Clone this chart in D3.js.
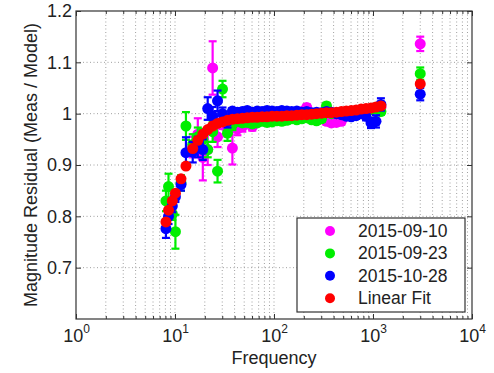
<!DOCTYPE html>
<html>
<head>
<meta charset="utf-8">
<script src="https://cdn.jsdelivr.net/npm/d3@7"></script>
<style>
  body { margin: 0; background: #fff; }
  svg text { font-family: "Liberation Sans", Arial, sans-serif; fill: #222; }
</style>
</head>
<body>
<svg id="chart" width="494" height="373"></svg>
<script>
// frequencies (Hz) shared by every series
const freqs = [8.1, 8.6, 9.4, 10.1, 11.5, 12.9,
  15.1, 17.0, 19.1, 21.4, 24.0, 26.9, 30.2, 33.9, 38.0, 42.7,
  47.9, 53.7, 60.3, 67.6, 75.9, 85.1, 95.5, 107, 120, 135,
  151, 170, 191, 214, 240, 269, 302, 339, 380, 427,
  479, 537, 603, 676, 759, 851, 955, 1072, 1202,
  3000];

const seriesNames = ["2015-09-10", "2015-09-23", "2015-10-28", "Linear Fit"];
const seriesColors = ["#ff00ff", "#00ee00", "#0000ff", "#ff0000"];

const mag0910 = [null, null, null, null, null, null,
  0.935, 0.96, 0.915, 0.93, 1.089, 0.955, 0.985, 0.97, 0.933, 0.97,
  0.975, 0.985, 0.975, 0.99, 0.988, 0.992, 0.99, 0.993, 0.99, 0.994,
  0.992, 0.995, 1.004, 1.012, 0.998, 0.996, 0.99, 0.985, 0.982, 0.983,
  0.985, 0.995, 1.0, 1.003, 1.005, 1.006, 1.008, 1.01, 1.012,
  1.136];
const err0910 = [0, 0, 0, 0, 0, 0,
  0.02, 0.031, 0.045, 0.03, 0.052, 0.02, 0.015, 0.015, 0.032, 0.012,
  0.01, 0.006, 0.008, 0.006, 0.006, 0.006, 0.006, 0.006, 0.006, 0.006,
  0.006, 0.006, 0.006, 0.006, 0.006, 0.006, 0.006, 0.006, 0.006, 0.006,
  0.006, 0.006, 0.006, 0.006, 0.006, 0.006, 0.006, 0.006, 0.006,
  0.014];

const mag0923 = [0.83, 0.858, 0.805, 0.77, 0.865, 0.976,
  0.94, 0.955, 0.95, 0.93, 0.965, 0.888, 1.048, 0.962, 0.978, 0.985,
  0.982, 0.983, 0.98, 0.982, 0.985, 0.983, 0.984, 0.986, 0.985, 0.987,
  0.99, 0.988, 0.99, 0.992, 0.988, 0.986, 0.99, 1.015, 1.0, 1.0,
  1.002, 1.003, 1.004, 1.005, 1.006, 1.006, 1.008, 1.01, 1.004,
  1.078];
const err0923 = [0.02, 0.025, 0.012, 0.033, 0.015, 0.027,
  0.02, 0.018, 0.02, 0.015, 0.02, 0.022, 0.016, 0.015, 0.01, 0.006,
  0.006, 0.006, 0.006, 0.006, 0.006, 0.006, 0.006, 0.006, 0.006, 0.006,
  0.006, 0.006, 0.006, 0.006, 0.006, 0.006, 0.006, 0.006, 0.006, 0.006,
  0.006, 0.006, 0.006, 0.006, 0.006, 0.006, 0.006, 0.006, 0.006,
  0.012];

const mag1028 = [0.776, 0.80, 0.82, 0.838, 0.862, 0.924,
  0.925, 0.935, 0.93, 1.01, 0.995, 1.025, 1.0, 0.985, 1.005, 1.003,
  1.004, 1.006, 1.003, 1.005, 1.004, 1.006, 1.005, 1.004, 1.006, 1.005,
  1.004, 1.005, 1.003, 1.004, 1.002, 1.003, 1.002, 1.004, 1.003, 1.0,
  0.998, 0.995, 0.994, 0.996, 1.0, 0.995, 0.982, 0.985, 1.018,
  1.038];
const err1028 = [0.018, 0.015, 0.012, 0.01, 0.012, 0.03,
  0.02, 0.02, 0.02, 0.022, 0.018, 0.02, 0.012, 0.012, 0.006, 0.006,
  0.006, 0.006, 0.006, 0.006, 0.006, 0.006, 0.006, 0.006, 0.006, 0.006,
  0.006, 0.006, 0.006, 0.006, 0.006, 0.006, 0.006, 0.006, 0.006, 0.006,
  0.006, 0.006, 0.006, 0.006, 0.006, 0.008, 0.01, 0.012, 0.012,
  0.012];

const linearFit = [0.789, 0.812, 0.83, 0.845, 0.873, 0.898,
  0.932, 0.948, 0.96, 0.969, 0.976, 0.981, 0.984, 0.987, 0.989, 0.99,
  0.991, 0.992, 0.993, 0.993, 0.994, 0.994, 0.995, 0.995, 0.995, 0.996,
  0.996, 0.997, 0.998, 0.998, 0.999, 1.0, 1.001, 1.002, 1.002, 1.003,
  1.004, 1.005, 1.006, 1.007, 1.009, 1.01, 1.011, 1.013, 1.015,
  1.058];

const yTicks = [0.7, 0.8, 0.9, 1, 1.1, 1.2];
const xTicks = [1, 10, 100, 1000, 10000];

// plot area
const margin = { top: 11, right: 22, bottom: 54, left: 76 };
const svgWidth = 494, svgHeight = 373;
const width = svgWidth - margin.left - margin.right;
const height = svgHeight - margin.top - margin.bottom;
const markerR = 5.5;

const svg = d3.select("#chart");
const chart = svg.append("g")
  .attr("transform", "translate(" + margin.left + "," + margin.top + ")");

const xScale = d3.scaleLog().domain([1, 10000]).range([0, width]);
const yScale = d3.scaleLinear().domain([0.6, 1.2]).range([height, 0]);

// minor positions 2..9 in every decade
const minorX = [];
[1, 10, 100, 1000].forEach(function (d) {
  for (let m = 2; m <= 9; m++) minorX.push(d * m);
});

// grid
const grid = chart.append("g").attr("class", "grid")
  .attr("stroke", "#a0a0a0").attr("stroke-width", 1)
  .attr("stroke-dasharray", "1,2.5");
grid.selectAll(".vx")
  .data(minorX.concat([10, 100, 1000]))
  .enter().append("line")
  .attr("x1", d => xScale(d)).attr("x2", d => xScale(d))
  .attr("y1", 0).attr("y2", height);
grid.selectAll(".hy")
  .data(yTicks.filter(d => d < 1.2))
  .enter().append("line")
  .attr("x1", 0).attr("x2", width)
  .attr("y1", d => yScale(d)).attr("y2", d => yScale(d));

// one group per series, red drawn last
const allSeries = [
  { values: mag0910, errs: err0910 },
  { values: mag0923, errs: err0923 },
  { values: mag1028, errs: err1028 },
  { values: linearFit, errs: null }
];

allSeries.forEach(function (s, i) {
  const pts = freqs.map((f, j) => ({ f: f, v: s.values[j], e: s.errs ? s.errs[j] : 0 }))
    .filter(p => p.v !== null);
  const g = chart.append("g")
    .attr("stroke", seriesColors[i]).attr("fill", seriesColors[i]);

  if (s.errs) {
    const bars = g.selectAll(".eb").data(pts).enter().append("g")
      .attr("stroke-width", 2.2);
    bars.append("line")
      .attr("x1", d => xScale(d.f)).attr("x2", d => xScale(d.f))
      .attr("y1", d => yScale(d.v - d.e)).attr("y2", d => yScale(d.v + d.e));
    bars.append("line")
      .attr("x1", d => xScale(d.f) - 4).attr("x2", d => xScale(d.f) + 4)
      .attr("y1", d => yScale(d.v - d.e)).attr("y2", d => yScale(d.v - d.e));
    bars.append("line")
      .attr("x1", d => xScale(d.f) - 4).attr("x2", d => xScale(d.f) + 4)
      .attr("y1", d => yScale(d.v + d.e)).attr("y2", d => yScale(d.v + d.e));
  }

  g.selectAll("circle").data(pts).enter().append("circle")
    .attr("cx", d => xScale(d.f))
    .attr("cy", d => yScale(d.v))
    .attr("r", markerR)
    .attr("stroke", "none");
});

// axes with inward ticks on all four sides
const xMajor = d3.axisBottom(xScale).tickValues(xTicks).tickSize(-5).tickPadding(10);
const xAxisGroup = chart.append("g")
  .attr("transform", "translate(0," + height + ")")
  .call(xMajor);
xAxisGroup.selectAll("text").text(null)
  .attr("font-size", 18).attr("fill", "#222")
  .each(function (d) {
    const t = d3.select(this);
    t.append("tspan").text("10");
    t.append("tspan").text(Math.round(Math.log10(d)))
      .attr("font-size", 12).attr("dy", -9);
  });
chart.append("g")
  .attr("transform", "translate(0," + height + ")")
  .call(d3.axisBottom(xScale).tickValues(minorX).tickSize(-3).tickFormat(""));
chart.append("g")
  .call(d3.axisTop(xScale).tickValues(xTicks).tickSize(-5).tickFormat(""));
chart.append("g")
  .call(d3.axisTop(xScale).tickValues(minorX).tickSize(-3).tickFormat(""));

chart.append("g")
  .call(d3.axisLeft(yScale).tickValues(yTicks).tickSize(-5).tickPadding(4)
    .tickFormat(d3.format("")))
  .selectAll("text").attr("font-size", 18).attr("fill", "#222");
chart.append("g")
  .attr("transform", "translate(" + width + ",0)")
  .call(d3.axisRight(yScale).tickValues(yTicks).tickSize(-5).tickFormat(""));

chart.selectAll(".domain").remove();
chart.selectAll(".tick line").attr("stroke", "#333");
chart.append("rect")
  .attr("width", width).attr("height", height)
  .attr("fill", "none").attr("stroke", "#333").attr("stroke-width", 1.2);

// axis titles
svg.append("text")
  .attr("x", margin.left + width / 2)
  .attr("y", 364)
  .attr("text-anchor", "middle")
  .attr("font-size", 18)
  .text("Frequency");
svg.append("text")
  .attr("transform", "translate(37," + (margin.top + height / 2) + ") rotate(-90)")
  .attr("text-anchor", "middle")
  .attr("font-size", 18)
  .text("Magnitude Residual (Meas / Model)");

// legend
const legend = svg.append("g").attr("transform", "translate(297,218)");
legend.append("rect")
  .attr("width", 168).attr("height", 94)
  .attr("fill", "#fff").attr("stroke", "#333").attr("stroke-width", 1.2);
const rows = legend.selectAll(".row").data(seriesNames).enter().append("g")
  .attr("transform", (d, i) => "translate(0," + (13 + i * 22.4) + ")");
rows.append("circle")
  .attr("cx", 33).attr("cy", 0).attr("r", 5)
  .attr("fill", (d, i) => seriesColors[i]);
rows.append("text")
  .attr("x", 61).attr("y", 6)
  .attr("font-size", 17.5)
  .text(d => d);
</script>
</body>
</html>
